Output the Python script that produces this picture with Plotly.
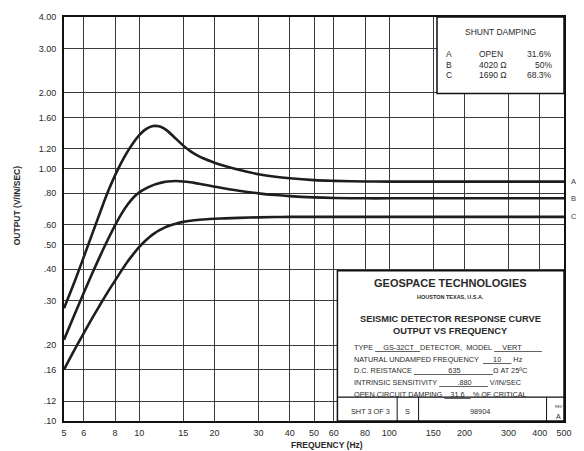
import math
import plotly.graph_objects as go

# ---------------- data ----------------
freq = [5, 5.5, 6, 6.5, 7, 7.5, 8, 8.5, 9, 9.5, 10, 10.5, 11, 11.5, 12, 12.5, 13, 14,
        15, 16, 17, 18, 20, 22, 25, 30, 35, 40, 50, 60, 80, 100, 150, 200, 300, 500]
curve_a = [0.28, 0.355, 0.4475, 0.556, 0.679, 0.8125, 0.942, 1.064, 1.175, 1.275, 1.36,
           1.424, 1.464, 1.48, 1.474, 1.45, 1.411, 1.318, 1.236, 1.176, 1.133, 1.101,
           1.058, 1.026, 0.991, 0.952, 0.930, 0.917, 0.902, 0.896, 0.891, 0.89, 0.89,
           0.89, 0.89, 0.89]
curve_b = [0.21, 0.2634, 0.3227, 0.3868, 0.4548, 0.5255, 0.5967, 0.6639, 0.7231, 0.7715,
           0.8063, 0.8309, 0.8505, 0.8658, 0.877, 0.8855, 0.8908, 0.8948, 0.8914, 0.8845,
           0.8755, 0.8663, 0.8497, 0.8356, 0.8189, 0.7994, 0.787, 0.7791, 0.7705, 0.7663,
           0.764, 0.764, 0.764, 0.764, 0.764, 0.764]
curve_c = [0.16, 0.191, 0.223, 0.257, 0.291, 0.326, 0.36, 0.3955, 0.43, 0.461, 0.49,
           0.515, 0.537, 0.555, 0.570, 0.582, 0.592, 0.606, 0.616, 0.622, 0.627, 0.630,
           0.634, 0.636, 0.639, 0.642, 0.644, 0.645, 0.645, 0.645, 0.645, 0.645, 0.645,
           0.645, 0.645, 0.645]
curve_names = ["A", "B", "C"]

x_ticks = [5, 6, 8, 10, 15, 20, 30, 40, 50, 60, 80, 100, 150, 200, 300, 400, 500]
x_ticktext = [str(v) for v in x_ticks]
y_ticks = [0.10, 0.12, 0.16, 0.20, 0.30, 0.40, 0.50, 0.60, 0.80, 1.00, 1.20, 1.60, 2.00, 3.00, 4.00]
y_ticktext = [".10", ".12", ".16", ".20", ".30", ".40", ".50", ".60", ".80",
              "1.00", "1.20", "1.60", "2.00", "3.00", "4.00"]

legend_rows = [("A", "OPEN", "31.6%"), ("B", "4020 \u03a9", "50%"), ("C", "1690 \u03a9", "68.3%")]

# ---------------- figure ----------------
W, H = 584, 451
ML, MR, MT, MB = 64, 18, 15, 30
PL, PT = ML, MT
PW, PH = W - ML - MR, H - MT - MB
FONT = "Liberation Sans, Arial, Helvetica, sans-serif"
TXT = "#2a2a2a"


def px(x):
    return (x - PL) / PW


def py(y):
    return (PT + PH - y) / PH


fig = go.Figure()
for name, vals in zip(curve_names, [curve_a, curve_b, curve_c]):
    fig.add_trace(go.Scatter(x=freq, y=vals, mode="lines", name=name,
                             line=dict(color="#1e1e1e", width=2.6, shape="spline", smoothing=1.0),
                             hoverinfo="skip", showlegend=False))

axis_common = dict(type="log", showgrid=True, gridcolor="#3a3a3a", gridwidth=1,
                   showline=True, linecolor="#111", linewidth=2, mirror=True,
                   ticks="", zeroline=False,
                   tickfont=dict(family=FONT, size=9, color=TXT))

fig.update_layout(
    width=W, height=H,
    margin=dict(l=ML, r=MR, t=MT, b=MB),
    paper_bgcolor="white", plot_bgcolor="white",
    xaxis=dict(range=[math.log10(5), math.log10(500)], tickmode="array", tickvals=x_ticks,
               ticktext=x_ticktext, ticklabelstandoff=2, **axis_common),
    yaxis=dict(range=[math.log10(0.1), math.log10(4)], tickmode="array", tickvals=y_ticks,
               ticktext=y_ticktext, ticklabelstandoff=4, **axis_common),
)

shapes = []
# shunt damping box
shapes.append(dict(type="rect", xref="paper", yref="paper", x0=px(438.5), x1=1, y0=py(92), y1=1,
                   fillcolor="white", line=dict(color="#111", width=1.5), layer="above"))
# title block
shapes.append(dict(type="rect", xref="paper", yref="paper", x0=px(338.5), x1=1, y0=0, y1=py(270),
                   fillcolor="white", line=dict(color="#111", width=1.5), layer="above"))
shapes.append(dict(type="line", xref="paper", yref="paper", x0=px(338.5), x1=1, y0=py(397), y1=py(397),
                   line=dict(color="#111", width=1.2), layer="above"))
for xd in [398.5, 420, 548.5]:
    shapes.append(dict(type="line", xref="paper", yref="paper", x0=px(xd), x1=px(xd), y0=0, y1=py(397),
                       line=dict(color="#111", width=1), layer="above"))
fig.update_layout(shapes=shapes)

ann = []


def txt(x, y, s, size=7.5, xanchor="center", bold=False, color=TXT):
    ann.append(dict(xref="paper", yref="paper", x=px(x), y=py(y), text=("<b>%s</b>" % s) if bold else s,
                    showarrow=False, xanchor=xanchor, yanchor="middle",
                    font=dict(family=FONT, size=size, color=color)))


# axis titles
ann.append(dict(xref="paper", yref="paper", x=px(328), y=py(445), text="<b>FREQUENCY (Hz)</b>",
                showarrow=False, xanchor="center", yanchor="middle",
                font=dict(family=FONT, size=8.5, color=TXT)))
ann.append(dict(xref="paper", yref="paper", x=px(17), y=py(204), text="<b>OUTPUT (V/IN/SEC)</b>",
                showarrow=False, xanchor="center", yanchor="middle", textangle=-90,
                font=dict(family=FONT, size=8.5, color=TXT)))

# right-hand curve letters at their flat output level
for name, vals in zip(curve_names, [curve_a, curve_b, curve_c]):
    ann.append(dict(xref="paper", yref="y", x=px(576), y=math.log10(vals[-1]),
                    text=name, showarrow=False, xanchor="center", yanchor="middle",
                    font=dict(family=FONT, size=7.5, color="#3a3a3a")))

# shunt damping legend
txt(502, 30, "SHUNT DAMPING", size=8.5)
for i, (l, m, r) in enumerate(legend_rows):
    yy = 52.5 + i * 10.5
    txt(446, yy, l, size=8.5, xanchor="left")
    txt(479, yy, m, size=8.5, xanchor="left")
    txt(556, yy, r, size=8.5, xanchor="right")

# title block
NB = "\u00a0"


def u(s, pre, post):
    return "<u>" + NB * pre + s + NB * post + "</u>"


txt(452.5, 282.5, "GEOSPACE TECHNOLOGIES", size=11, bold=True)
txt(452.5, 296.5, "HOUSTON TEXAS, U.S.A.", size=5.5, bold=True)
txt(452.5, 318.5, "SEISMIC DETECTOR RESPONSE CURVE", size=9.3, bold=True)
txt(452.5, 330.5, "OUTPUT VS FREQUENCY", size=9.3, bold=True)
lines = [
    "TYPE" + NB + u("GS-32CT", 4, 3) + "DETECTOR," + NB + NB + "MODEL" + NB + u("VERT", 4, 10),
    "NATURAL UNDAMPED FREQUENCY" + NB + NB + u("10", 5, 5) + NB + "Hz",
    "D.C. REISTANCE" + NB + u("635", 17, 16) + "\u03a9 AT 25\u00baC",
    "INTRINSIC SENSITIVITY" + NB + u(".880", 9, 8) + NB + "V/IN/SEC",
    "OPEN CIRCUIT DAMPING" + NB + u("31.6", 3, 3) + NB + "% OF CRITICAL",
]
for i, s in enumerate(lines):
    txt(353, 347.5 + i * 11.6, s, size=7.3, xanchor="left")

txt(371.5, 411.5, "SHT 3 OF 3", size=7.3)
txt(409, 411.5, "S", size=7.3)
txt(482, 411.5, "98904", size=7.3)
txt(560.5, 406.5, "REV", size=3.5)
txt(560.5, 416.5, "A", size=7)

fig.update_layout(annotations=ann)
fig.write_html("out.html", config={"displayModeBar": False},
               post_script="document.body.style.margin='0px';document.body.style.overflow='hidden';")
